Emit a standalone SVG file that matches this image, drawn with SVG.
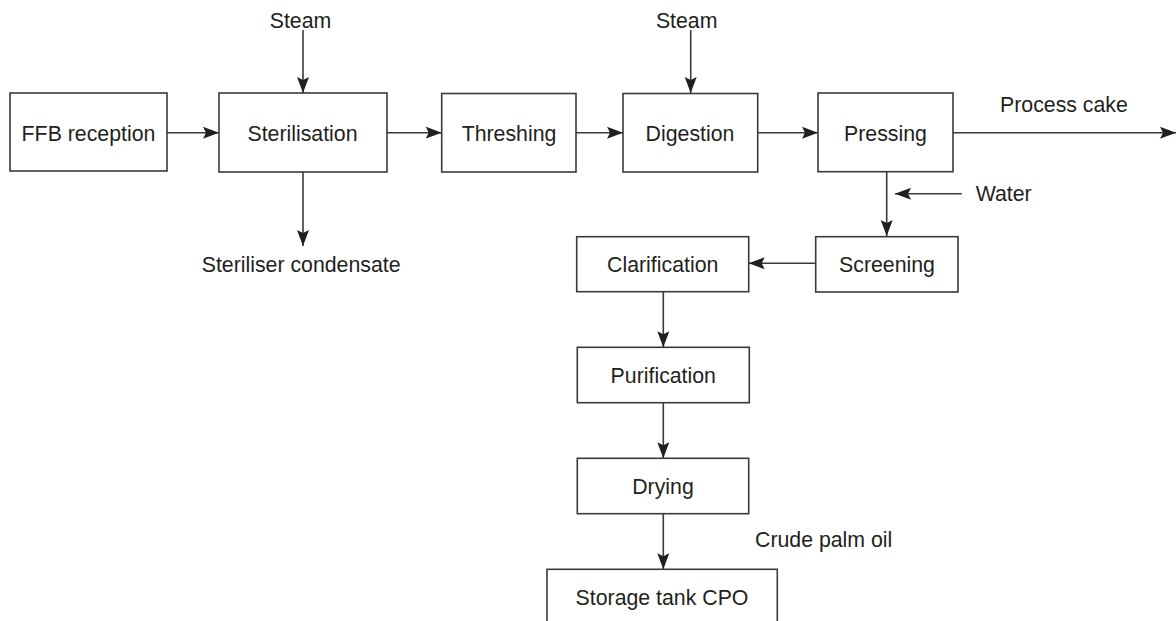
<svg xmlns="http://www.w3.org/2000/svg" width="1176" height="621" viewBox="0 0 1176 621">
<style>
.box{fill:#fff;stroke:#3a3a3a;stroke-width:1.6}
.t{font-family:"Liberation Sans",Arial,sans-serif;font-size:21.3px;fill:#231f20}
.c{text-anchor:middle}
.ln{stroke:#3a3a3a;stroke-width:1.6;fill:none;marker-end:url(#ah)}
</style>
<defs>
<marker id="ah" markerUnits="userSpaceOnUse" markerWidth="17" markerHeight="13" refX="16" refY="6.5" orient="auto">
<path d="M0,0.5 L16,6.5 L0,12.5 L3,6.5 Z" fill="#231f20"/>
</marker>
</defs>
<rect width="1176" height="621" fill="#fff"/>
<g id="connectors">
<line class="ln" x1="167" y1="132.7" x2="219" y2="132.7"/>
<line class="ln" x1="387" y1="132.7" x2="441.7" y2="132.7"/>
<line class="ln" x1="576" y1="132.7" x2="623" y2="132.7"/>
<line class="ln" x1="757.7" y1="132.7" x2="818" y2="132.7"/>
<line class="ln" x1="953" y1="132.7" x2="1176" y2="132.7"/>
<line class="ln" x1="303" y1="30" x2="303" y2="93"/>
<line class="ln" x1="690.7" y1="30" x2="690.7" y2="93"/>
<line class="ln" x1="303" y1="172" x2="303" y2="246"/>
<line class="ln" x1="886.7" y1="171.7" x2="886.7" y2="236"/>
<line class="ln" x1="961.7" y1="193.7" x2="895" y2="193.7"/>
<line class="ln" x1="815.7" y1="263.3" x2="748.7" y2="263.3"/>
<line class="ln" x1="663.3" y1="291.7" x2="663.3" y2="347.3"/>
<line class="ln" x1="663.3" y1="402.7" x2="663.3" y2="458.3"/>
<line class="ln" x1="663.3" y1="513.7" x2="663.3" y2="569.3"/>
</g>
<g id="labels">
<text class="t c" x="300.5" y="27.5">Steam</text>
<text class="t c" x="686.7" y="27.5">Steam</text>
<text class="t" x="1000" y="112">Process cake</text>
<text class="t" x="975.7" y="201">Water</text>
<text class="t" x="201.7" y="272">Steriliser condensate</text>
<text class="t" x="755" y="546.7">Crude palm oil</text>
</g>
<g id="ffb"><rect class="box" x="10" y="93" width="157" height="78"/><text class="t c" x="88.5" y="140.7">FFB reception</text></g>
<g id="sterilisation"><rect class="box" x="219" y="93" width="168" height="79"/><text class="t c" x="302.5" y="140.7">Sterilisation</text></g>
<g id="threshing"><rect class="box" x="441.7" y="93.5" width="134.3" height="78.5"/><text class="t c" x="509" y="140.7">Threshing</text></g>
<g id="digestion"><rect class="box" x="623" y="93.5" width="134.7" height="78.5"/><text class="t c" x="690" y="140.7">Digestion</text></g>
<g id="pressing"><rect class="box" x="818" y="93" width="135" height="78.7"/><text class="t c" x="885.5" y="140.7">Pressing</text></g>
<g id="screening"><rect class="box" x="815.7" y="236.7" width="142.3" height="55.3"/><text class="t c" x="887" y="272">Screening</text></g>
<g id="clarification"><rect class="box" x="576.7" y="236.7" width="172" height="55"/><text class="t c" x="662.7" y="272">Clarification</text></g>
<g id="purification"><rect class="box" x="577.3" y="347.3" width="172" height="55.4"/><text class="t c" x="663.3" y="383">Purification</text></g>
<g id="drying"><rect class="box" x="577.3" y="458.3" width="171.4" height="55.4"/><text class="t c" x="663" y="494">Drying</text></g>
<g id="storage"><rect class="box" x="547" y="569.3" width="230.3" height="70"/><text class="t c" x="662" y="604.5">Storage tank CPO</text></g>
</svg>
